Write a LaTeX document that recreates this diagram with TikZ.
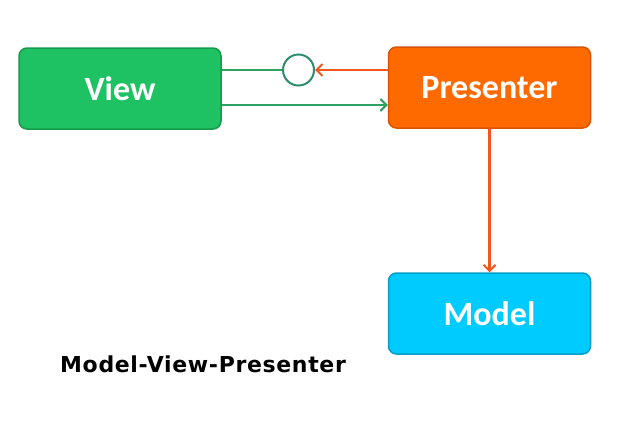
\documentclass[tikz,border=0pt]{standalone}
\usepackage{fontspec}
\setmainfont{Carlito}
\newfontfamily\titlefont[LetterSpace=3]{DejaVu Sans}
\usetikzlibrary{arrows.meta}
\definecolor{vfill}{HTML}{1EC263}
\definecolor{vdraw}{HTML}{179A4C}
\definecolor{pfill}{HTML}{FF6A00}
\definecolor{pdraw}{HTML}{D95400}
\definecolor{mfill}{HTML}{00CBFF}
\definecolor{mdraw}{HTML}{0A9CC8}
\definecolor{gline}{HTML}{2FA263}
\definecolor{oline}{HTML}{F2561D}
\definecolor{cline}{HTML}{2E8E6C}
\begin{document}
\begin{tikzpicture}[x=1pt,y=-1pt,
  box/.style={rounded corners=8pt,line width=1.5pt,minimum width=202pt,minimum height=81pt,inner sep=0pt,
    font=\fontsize{34}{34}\selectfont\bfseries,text=white},
  conn/.style={line width=2.2pt,-{Straight Barb[length=6pt,width=12pt,line width=2pt]}}]
\useasboundingbox (0,0) rectangle (634,426);
\node[box,fill=vfill,draw=vdraw] (view) at (120,88.5) {View};
\node[box,fill=pfill,draw=pdraw] (pres) at (489.5,87.5) {Presenter};
\node[box,fill=mfill,draw=mdraw] (model) at (489.5,313.5) {Model};
\node[circle,draw=cline,fill=white,line width=2pt,minimum size=31pt,inner sep=0pt] (ifc) at (298.5,70) {};
\draw[gline,line width=2.2pt] (view.east |- ifc) -- (ifc.west);
\draw[conn,oline] (pres.west |- ifc) -- (ifc.east);
\draw[conn,gline] (view.east |- 0,105) -- (pres.west |- 0,105);
\draw[conn,oline] (pres.south) -- (model.north);
\node[font=\titlefont\fontsize{22}{22}\selectfont\bfseries,anchor=base west,inner sep=0pt] (title) at (60,372) {Model-View-Presenter};
\end{tikzpicture}
\end{document}
